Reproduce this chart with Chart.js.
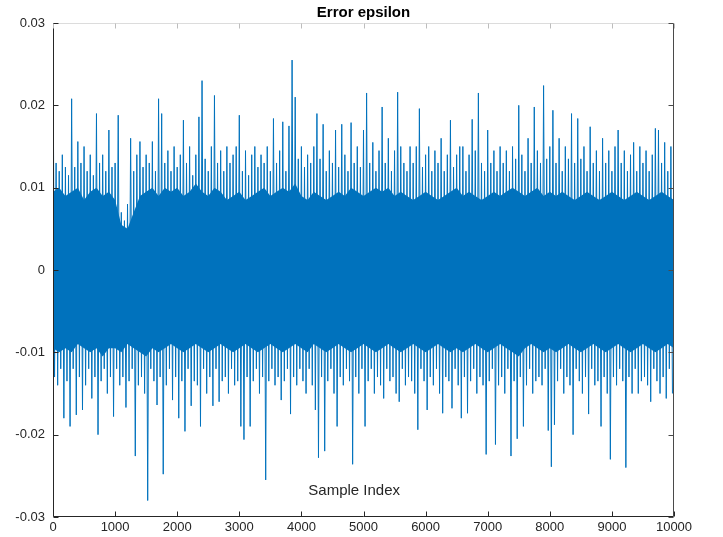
<!DOCTYPE html>
<html>
<head>
<meta charset="utf-8">
<script src="https://cdn.jsdelivr.net/npm/chart.js@4/dist/chart.umd.min.js"></script>
<style>
  html, body { margin: 0; padding: 0; background: #ffffff; }
  #wrap { width: 723px; height: 537px; position: relative; }
</style>
</head>
<body>
<div id="wrap"><canvas id="c" width="723" height="537"></canvas></div>
<script>
// ---- Data (in units of 1e-3) ----
const chartTitle = "Error epsilon";
const xAxisLabel = "Sample Index";
const binSize = 50; // samples per bin: one upper and one lower extreme per bin

// per-bin extremes (spikes and fringe)
const binUpper = [
  28.5, 13, 12, 14, 12.5, 11.5, 20.8, 12.5, 15.6, 13, 15, 12, 14, 11.5, 19, 13, 14, 12, 17, 12.5,
  13, 18.8, 7, 6, 8, 16, 12, 14, 15.6, 12.5, 14, 13, 15.6, 12, 20.8, 19, 13, 14.5, 12, 15,
  12.5, 14, 18.2, 13, 15, 11.5, 14, 18.6, 23, 13.5, 12, 15, 21.2, 13, 14.5, 12, 15, 13, 14, 15,
  18.8, 12, 14.5, 11.5, 14, 15, 12.5, 14, 13, 15, 12, 18.4, 13, 14.5, 18, 12, 17.5, 25.5, 21, 13.5,
  15, 12.5, 14, 13, 15, 19, 13.5, 17.7, 12, 14.5, 13, 17, 12.5, 17.7, 14, 12, 17.9, 13, 15, 12.5,
  17, 21.5, 13, 15.5, 12, 14.5, 19.8, 13, 16, 12, 14.5, 21.6, 15, 13, 12, 15, 13, 15, 19.6, 12.5,
  14, 15, 12, 14.5, 13, 16, 12, 14, 18.2, 12.5, 14, 15, 15, 12, 14, 18.3, 14.5, 21.5, 13, 12,
  17, 13, 14.5, 12, 15, 13, 14.5, 12, 15, 13.5, 20, 14, 12, 16, 13, 19.8, 14.5, 13, 22.4, 13.5,
  15, 19.4, 13, 16, 12, 15, 13.5, 19, 13, 18.4, 13.5, 15, 12, 17.4, 13, 14.5, 12, 16, 13, 14.5,
  12, 15, 17, 13, 14.5, 12, 14, 15.5, 12, 15, 13, 14.5, 12, 14, 17.2, 17, 13, 15.5, 12, 15
];

const binLower = [
  -13, -14, -12, -18, -13.5, -19, -12, -17.6, -13, -17, -14, -12, -15.6, -13, -20, -13.5, -12, -15, -13, -17.8,
  -12, -14, -13, -16.7, -13.5, -12, -22.6, -14, -13, -15, -28, -12, -13.5, -16.4, -13, -24.8, -14, -12, -15.8, -13,
  -18, -13.5, -19.6, -12, -16.5, -13.5, -14, -19, -12, -15, -13, -16.5, -12, -16, -13.5, -13, -15, -12, -14, -13.5,
  -19, -20.6, -13, -19, -13.5, -12, -15, -13, -25.5, -13.5, -12, -14, -13, -15.8, -13.5, -12, -17.5, -13, -14, -12,
  -13.5, -15, -12, -14, -17, -22.8, -13, -22, -13.5, -12, -15, -19, -13, -14, -12, -13.5, -23.6, -13, -15, -12,
  -19, -13.5, -12, -15, -13, -14, -15.6, -12, -13.5, -13, -15, -16, -12, -14, -13, -13.5, -15, -19.4, -12, -13.5,
  -17, -13, -14, -12, -15, -17.4, -13, -13.5, -16.8, -12, -14, -18, -13, -17.4, -13.5, -12, -15, -13, -14, -22.4,
  -13.5, -12, -21.2, -14, -13, -15, -12, -22.6, -13.5, -20.5, -13, -19, -14, -12, -15, -13.5, -13, -14, -12, -19.5,
  -23.9, -18.8, -13.5, -12, -15, -13, -14, -20, -12, -13.5, -15, -13, -17.5, -12, -14, -13.5, -19, -13, -15, -23,
  -13, -14, -12, -13.5, -24, -13, -15, -12, -15, -13.5, -13, -14, -16, -12, -13.5, -15, -13, -15.6, -12, -15
];

// edges of the dense (solid) band, read every 100 samples
const coreStep = 100;
const coreUpper = [
  9.5, 10, 9, 9.5, 10, 8.5, 9.5, 10, 9, 9.5,
  8.5, 5.5, 5, 7, 9, 9.5, 10, 9, 10, 9.5,
  10, 9, 9.5, 10.5, 9.5, 9, 10, 9.5, 8.5, 9,
  9.5, 8.5, 9, 9.5, 10, 9, 9.5, 10, 9.5, 10.5,
  9, 8.5, 9.5, 9, 8.5, 9, 9.5, 9, 10, 9.5,
  9, 9.5, 10, 9.5, 10, 9, 9.5, 9, 8.5, 9,
  9.5, 9, 8.5, 9, 9.5, 10, 9, 9.5, 9, 8.5,
  9, 9.5, 9, 9.5, 10, 9.5, 9, 9.5, 10, 9,
  9.5, 9, 9.5, 9, 8.5, 9, 9.5, 9, 8.5, 9,
  9.5, 9, 8.5, 9, 9.5, 9, 8.5, 9, 9.5, 9, 8.5
];
const coreLower = [
  -9.5, -10, -9.5, -10, -9, -9.5, -10, -9.5, -10.5, -9.5,
  -9.5, -10, -9, -9.5, -10, -10.5, -9.5, -10, -9.5, -9,
  -9.5, -10, -9.5, -9, -9.5, -10, -9.5, -9, -9.5, -10,
  -9.5, -9, -9.5, -10, -9.5, -9, -9.5, -10, -9.5, -9,
  -9.5, -10, -9, -9.5, -10, -9.5, -9, -9.5, -10, -9.5,
  -9, -9.5, -10, -9.5, -9, -9.5, -10, -9.5, -9, -9.5,
  -10, -9.5, -9, -9.5, -10, -9.5, -10, -9.5, -9, -9.5,
  -10, -9.5, -9, -9.5, -10, -10.5, -9.5, -9, -9.5, -10,
  -9.5, -10, -9.5, -9, -9.5, -10, -9.5, -9, -9.5, -10,
  -9.5, -9, -9.5, -10, -9.5, -9, -9.5, -10, -9.5, -9, -9.5
];

const xTickValues = [0, 1000, 2000, 3000, 4000, 5000, 6000, 7000, 8000, 9000, 10000];
const xTickLabels = ["0", "1000", "2000", "3000", "4000", "5000", "6000", "7000", "8000", "9000", "10000"];
const yTickValues = [-30, -20, -10, 0, 10, 20, 30];
const yTickLabels = ["-0.03", "-0.02", "-0.01", "0", "0.01", "0.02", "0.03"];

// ---- Build the series ----
const points = [];
for (let b = 0; b < binUpper.length; b++) {
  points.push({ x: b * binSize, y: binUpper[b] });
  points.push({ x: b * binSize + binSize / 2, y: binLower[b] });
}
const coreUpPts = coreUpper.map((v, i) => ({ x: i * coreStep, y: v }));
const coreLoPts = coreLower.map((v, i) => ({ x: i * coreStep, y: v }));

const FONT = "'Liberation Sans', Arial, Helvetica, sans-serif";
const BLUE = '#0072BD';

const matlabFrame = {
  id: 'matlabFrame',
  afterDraw(chart) {
    const ctx = chart.ctx;
    const a = chart.chartArea;
    const xs = chart.scales.x, ys = chart.scales.y;
    ctx.save();
    ctx.lineWidth = 1;
    const L = Math.round(a.left) + 0.5, R = Math.round(a.right) - 0.5;
    const T = Math.round(a.top) + 0.5, B = Math.round(a.bottom) - 0.5;
    ctx.strokeStyle = '#dcdcdc';
    ctx.beginPath(); ctx.moveTo(L, T); ctx.lineTo(R, T); ctx.stroke();
    ctx.strokeStyle = '#4a4a4a';
    ctx.beginPath(); ctx.moveTo(R, T); ctx.lineTo(R, B); ctx.stroke();
    ctx.strokeStyle = '#262626';
    ctx.beginPath(); ctx.moveTo(L, T); ctx.lineTo(L, B); ctx.lineTo(R, B); ctx.stroke();
    const tl = 5;
    xTickValues.forEach(v => {
      const px = Math.round(xs.getPixelForValue(v)) + 0.5;
      ctx.strokeStyle = '#262626';
      ctx.beginPath(); ctx.moveTo(px, B); ctx.lineTo(px, B - tl); ctx.stroke();
      ctx.strokeStyle = '#bdbdbd';
      ctx.beginPath(); ctx.moveTo(px, T); ctx.lineTo(px, T + tl); ctx.stroke();
    });
    yTickValues.forEach(v => {
      const py = Math.round(ys.getPixelForValue(v)) + 0.5;
      ctx.strokeStyle = '#262626';
      ctx.beginPath(); ctx.moveTo(L, py); ctx.lineTo(L + tl, py); ctx.stroke();
      ctx.strokeStyle = '#4a4a4a';
      ctx.beginPath(); ctx.moveTo(R, py); ctx.lineTo(R - tl, py); ctx.stroke();
    });
    ctx.fillStyle = '#000000';
    ctx.font = "bold 15px " + FONT;
    ctx.textAlign = 'center';
    ctx.textBaseline = 'alphabetic';
    ctx.fillText(chartTitle, (a.left + a.right) / 2, 17);
    ctx.fillStyle = '#262626';
    ctx.font = "15px " + FONT;
    ctx.fillText(xAxisLabel, xs.getPixelForValue(4850), 495);
    ctx.restore();
  }
};

new Chart(document.getElementById('c'), {
  type: 'line',
  data: {
    datasets: [
      {
        label: 'core lower',
        data: coreLoPts,
        borderWidth: 0,
        borderColor: BLUE,
        pointRadius: 0,
        fill: false
      },
      {
        label: 'core upper',
        data: coreUpPts,
        borderWidth: 0,
        borderColor: BLUE,
        backgroundColor: BLUE,
        pointRadius: 0,
        fill: '-1'
      },
      {
        label: 'epsilon',
        data: points,
        borderColor: BLUE,
        borderWidth: 1,
        pointRadius: 0,
        tension: 0,
        fill: false
      }
    ]
  },
  options: {
    responsive: false,
    animation: false,
    parsing: false,
    normalized: true,
    layout: { padding: { top: 23, right: 49, left: 0, bottom: 0 } },
    plugins: { legend: { display: false }, tooltip: { enabled: false }, title: { display: false } },
    scales: {
      x: {
        type: 'linear',
        min: 0, max: 10000,
        afterBuildTicks: s => { s.ticks = xTickValues.map(v => ({ value: v })); },
        afterFit: s => { s.height = 20; },
        grid: { display: false, drawTicks: false },
        border: { display: false },
        ticks: {
          padding: 3,
          color: '#262626',
          font: { family: FONT, size: 13 },
          maxRotation: 0,
          autoSkip: false,
          callback: (v) => { const i = xTickValues.indexOf(v); return i >= 0 ? xTickLabels[i] : ''; }
        }
      },
      y: {
        type: 'linear',
        min: -30, max: 30,
        afterBuildTicks: s => { s.ticks = yTickValues.map(v => ({ value: v })); },
        afterFit: s => { s.width = 53; },
        grid: { display: false, drawTicks: false },
        border: { display: false },
        ticks: {
          padding: 8,
          color: '#262626',
          font: { family: FONT, size: 13 },
          autoSkip: false,
          callback: (v) => { const i = yTickValues.indexOf(v); return i >= 0 ? yTickLabels[i] : ''; }
        }
      }
    }
  },
  plugins: [matlabFrame]
});
</script>
</body>
</html>
